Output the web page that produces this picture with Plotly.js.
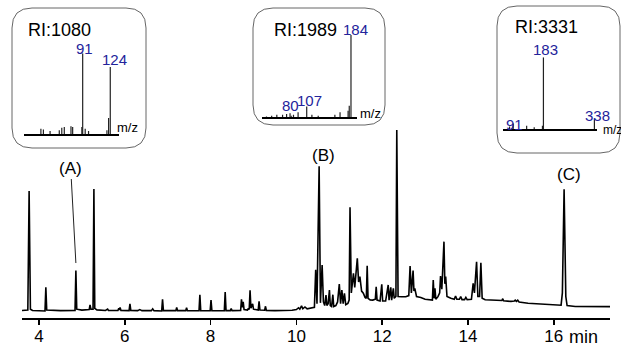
<!DOCTYPE html>
<html>
<head>
<meta charset="utf-8">
<script src="https://cdn.plot.ly/plotly-3.0.1.min.js"></script>
<style>html,body{margin:0;padding:0;background:#fff;}#chart{width:621px;height:346px;}</style>
</head>
<body>
<div id="chart"></div>
<script>
// ---- chromatogram (retention time in min, relative signal) ----
const chromTime = [3.60,3.74,3.77,3.80,3.85,4.12,4.14,4.16,4.18,4.50,4.84,4.86,4.88,5.00,5.17,5.19,5.21,5.26,5.28,5.30,5.35,5.55,5.60,5.62,5.84,5.86,5.87,5.89,5.91,6.10,6.12,6.14,6.30,6.35,6.40,6.62,6.65,6.68,6.86,6.88,6.90,7.19,7.21,7.23,7.42,7.44,7.46,7.73,7.75,7.77,7.99,8.01,8.03,8.32,8.34,8.36,8.46,8.48,8.50,8.70,8.72,8.74,8.76,8.78,8.86,8.88,8.90,8.92,8.94,8.98,9.00,9.11,9.13,9.15,9.26,9.28,9.30,9.50,9.70,9.90,10.00,10.05,10.08,10.12,10.15,10.20,10.25,10.35,10.42,10.45,10.48,10.53,10.56,10.60,10.63,10.66,10.69,10.71,10.74,10.77,10.79,10.82,10.85,10.87,10.92,10.96,11.00,11.03,11.06,11.09,11.12,11.15,11.20,11.23,11.25,11.28,11.33,11.36,11.42,11.45,11.48,11.52,11.56,11.60,11.63,11.65,11.67,11.72,11.78,11.84,11.86,11.88,11.95,11.99,12.01,12.08,12.14,12.16,12.20,12.22,12.26,12.28,12.32,12.34,12.37,12.45,12.55,12.62,12.65,12.68,12.72,12.74,12.76,12.80,12.90,13.00,13.10,13.17,13.19,13.21,13.23,13.25,13.30,13.34,13.36,13.39,13.44,13.46,13.48,13.51,13.60,13.68,13.71,13.74,13.80,13.83,13.86,13.92,13.95,13.98,14.08,14.12,14.15,14.20,14.23,14.27,14.30,14.33,14.40,14.60,14.79,14.81,14.83,15.00,15.08,15.10,15.13,15.16,15.19,15.40,15.70,16.00,16.17,16.20,16.24,16.28,16.31,16.50,17.00,17.31];
const chromSignal = [0.3,0.5,66.3,1.0,0.3,0,0,13.1,0.5,0.2,0.3,22.3,1.0,0.5,0.8,3.3,1.0,1.0,67.4,1.5,0.6,0.3,1.0,0.3,0.3,1.5,0.5,2.0,0.3,0.2,3.9,0.3,0.2,0.8,0.2,0.2,1.2,0.2,0,6.5,0.2,0.2,2.0,0.2,0.2,1.8,0.2,0.1,9.0,0.2,0.1,6.1,0.2,0.1,10.5,0.2,0.2,1.3,0.2,0.3,6.5,2.0,5.0,0.8,0.5,1.5,0.8,11.4,1.5,4.0,1.0,0.5,5.4,0.5,0.4,2.6,0.3,0.2,0.2,0.4,0.8,1.8,1.0,2.8,1.2,2.2,1.2,1.5,2.0,22.7,4.0,80,4.5,25.4,5.0,3.0,8.8,3.0,4.0,11.6,3.0,2.5,9.0,2.5,3.0,5.0,14.9,4.0,11.6,4.0,9.8,3.5,4.2,6.0,57.3,10,20.8,13,29.1,16,19,11,9.8,7.5,7.0,25,7.0,6.1,6.0,6.5,13.4,6.0,5.5,14.7,5.5,5.5,14.4,6.0,13.1,6.0,12.5,7.0,8.0,100,8.0,7.9,7.9,8.5,24.9,10,22.3,11,12.5,8.0,7.5,6.5,6.1,6.0,17.1,7.0,12.5,6.5,7.9,10,19.3,12,38.3,15,19,8.0,7.0,6.5,8.3,6.5,6.5,8.0,6.3,6.3,7.5,6.3,6.5,15.3,10,27.2,8.0,8.0,26.7,7.0,6.2,6.0,5.8,6.8,5.6,5.3,5.5,6.0,5.3,6.0,5.0,4.3,3.8,3.3,3.2,10,67.2,8.0,3.0,2.5,2.4,2.4];
const tickVals = [4,6,8,10,12,14,16];
const tickText = ['4','6','8','10','12','14','16'];
const unitLabel = 'min';
const peakLabels = ['(A)','(B)','(C)'];

// ---- inset mass spectra (m/z, relative intensity %) ----
const specA_mz  = [41,44,52,63,66,69,77,79,90,91,94,98,120,122,124];
const specA_int = [7,6,4,5,8,9,10,9,9,100,7,4,5,20,83];
const specA_labels = ['91','124'];
const specA_RI = 'RI:1080';

const specB_mz  = [37,46,55,65,72,78,80,84,92,107,116,127,156,165,179,181,184];
const specB_int = [1,2,3,3,4,5,2,3,6,13,3,2,3,6,8,14,100];
const specB_labels = ['80','107','184'];
const specB_RI = 'RI:1989';

const specC_mz  = [80,91,132,155,180,183,338];
const specC_int = [4,8,5,3,5,100,15];
const specC_labels = ['91','183','338'];
const specC_RI = 'RI:3331';

// ---- helpers ----
const W = 621, H = 318; // plot area (paper) in px
const X = px => px / W;
const Y = py => 1 - py / H;
function stems(mz, inten) {
  const xs = [], ys = [];
  mz.forEach((m, i) => { xs.push(m, m, null); ys.push(0, inten[i], null); });
  return {xs, ys};
}
function rr(x0, y0, x1, y1, r) {
  return `M ${X(x0+r)},${Y(y0)} L ${X(x1-r)},${Y(y0)} Q ${X(x1)},${Y(y0)} ${X(x1)},${Y(y0+r)} ` +
         `L ${X(x1)},${Y(y1-r)} Q ${X(x1)},${Y(y1)} ${X(x1-r)},${Y(y1)} ` +
         `L ${X(x0+r)},${Y(y1)} Q ${X(x0)},${Y(y1)} ${X(x0)},${Y(y1-r)} ` +
         `L ${X(x0)},${Y(y0+r)} Q ${X(x0)},${Y(y0)} ${X(x0+r)},${Y(y0)} Z`;
}

const FONT = 'Liberation Sans, Arial, Helvetica, sans-serif';
const BLUE = '#23239b';
const stemLine = {color: '#222', width: 1.2};

const sA = stems(specA_mz, specA_int);
const sB = stems(specB_mz, specB_int);
const sC = stems(specC_mz, specC_int);

const traces = [
  {x: chromTime, y: chromSignal, type: 'scatter', mode: 'lines', line: {color: '#000', width: 1.6}, xaxis: 'x', yaxis: 'y', hoverinfo: 'skip'},
  {x: sA.xs, y: sA.ys, type: 'scatter', mode: 'lines', line: stemLine, xaxis: 'x2', yaxis: 'y2', connectgaps: false, hoverinfo: 'skip'},
  {x: sB.xs, y: sB.ys, type: 'scatter', mode: 'lines', line: stemLine, xaxis: 'x3', yaxis: 'y3', connectgaps: false, hoverinfo: 'skip'},
  {x: sC.xs, y: sC.ys, type: 'scatter', mode: 'lines', line: stemLine, xaxis: 'x4', yaxis: 'y4', connectgaps: false, hoverinfo: 'skip'}
];

const insetX = {showline: true, linecolor: '#000', linewidth: 1.5, ticks: '', showticklabels: false, showgrid: false, zeroline: false, fixedrange: true};
const insetY = {visible: false, range: [0, 100], showgrid: false, zeroline: false, fixedrange: true};

function txt(text, px, py, size, color, xanchor) {
  return {text, x: X(px), y: Y(py), xref: 'paper', yref: 'paper', showarrow: false,
          xanchor: xanchor || 'center', yanchor: 'middle', font: {family: FONT, size, color: color || '#000'}};
}

const layout = {
  width: 621, height: 346,
  margin: {l: 0, r: 0, t: 0, b: 28, pad: 0},
  paper_bgcolor: '#fff', plot_bgcolor: 'rgba(0,0,0,0)',
  showlegend: false,
  font: {family: FONT, color: '#000'},
  xaxis: {domain: [X(22), X(610)], range: [3.604, 17.31], showline: true, linecolor: '#000', linewidth: 1.5,
          ticks: 'outside', ticklen: 5, tickwidth: 1.5, tickcolor: '#000',
          tickvals: tickVals, ticktext: tickText, tickfont: {family: FONT, size: 17, color: '#000'},
          ticklabelstandoff: -3,
          showgrid: false, zeroline: false, fixedrange: true},
  yaxis: {domain: [0, 1], range: [-3.87, 171.8], visible: false, showgrid: false, zeroline: false, fixedrange: true},
  xaxis2: Object.assign({}, insetX, {domain: [X(24), X(119.3)], range: [20.8, 134.8], anchor: 'y2'}),
  yaxis2: Object.assign({}, insetY, {domain: [Y(134.3), Y(53.3)], anchor: 'x2'}),
  xaxis3: Object.assign({}, insetX, {domain: [X(261.7), X(357.3)], range: [28.7, 195], anchor: 'y3'}),
  yaxis3: Object.assign({}, insetY, {domain: [Y(117.3), Y(35)], anchor: 'x3'}),
  xaxis4: Object.assign({}, insetX, {domain: [X(503.3), X(596.7)], range: [61, 345], anchor: 'y4'}),
  yaxis4: Object.assign({}, insetY, {domain: [Y(129.3), Y(57.3)], anchor: 'x4'}),
  shapes: [
    {type: 'path', xref: 'paper', yref: 'paper', path: rr(12, 8, 146, 148, 20), line: {color: '#666', width: 1}},
    {type: 'path', xref: 'paper', yref: 'paper', path: rr(253, 8, 385, 125, 20), line: {color: '#666', width: 1}},
    {type: 'path', xref: 'paper', yref: 'paper', path: rr(497, 6, 620, 153, 20), line: {color: '#666', width: 1}}
  ],
  annotations: [
    // inset A
    txt(specA_RI, 26, 30, 18, '#000', 'left'),
    txt(specA_labels[0], 84, 49, 15, BLUE),
    txt(specA_labels[1], 114, 60, 15, BLUE),
    txt('m/z', 127.3, 127, 13),
    // inset B
    txt(specB_RI, 272, 30, 18, '#000', 'left'),
    txt(specB_labels[0], 290, 106, 15, BLUE),
    txt(specB_labels[1], 309.3, 100.5, 15, BLUE),
    txt(specB_labels[2], 355.8, 30, 15, BLUE),
    txt('m/z', 370, 113.3, 13),
    // inset C
    txt(specC_RI, 513, 26.7, 18, '#000', 'left'),
    txt(specC_labels[0], 514, 124.5, 15, BLUE),
    txt(specC_labels[1], 545.5, 49.3, 15, BLUE),
    txt(specC_labels[2], 597, 115.5, 15, BLUE),
    txt('m/z', 601, 129.5, 12, '#000', 'left'),
    // peak labels
    {text: peakLabels[0], x: 4.86, y: 26.5, xref: 'x', yref: 'y', showarrow: true, arrowhead: 0, arrowwidth: 1, arrowcolor: '#222',
     ax: -5.2, ay: -95, standoff: 0, font: {family: FONT, size: 17, color: '#000'}},
    {text: peakLabels[1], x: 10.63, y: 85.9, xref: 'x', yref: 'y', showarrow: false, font: {family: FONT, size: 17, color: '#000'}},
    {text: peakLabels[2], x: 16.35, y: 75.3, xref: 'x', yref: 'y', showarrow: false, font: {family: FONT, size: 17, color: '#000'}},
    // unit after last tick
    txt(unitLabel, 583, 337, 18)
  ]
};

Plotly.newPlot('chart', traces, layout, {staticPlot: true, displayModeBar: false});
</script>
</body>
</html>
